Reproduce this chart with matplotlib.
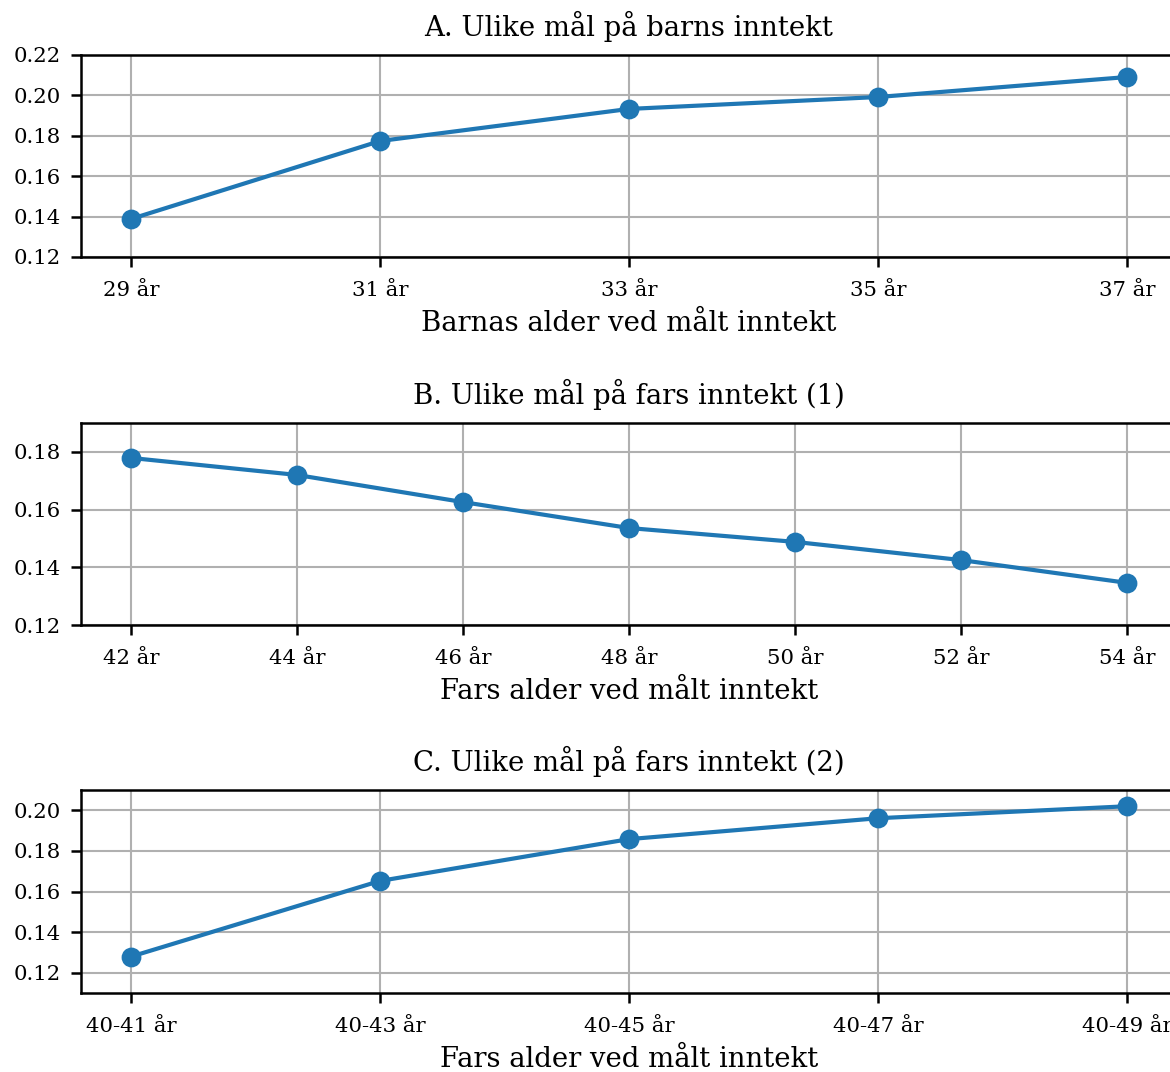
import matplotlib
matplotlib.use("Agg")
import matplotlib.pyplot as plt

plt.rcParams['font.family'] = ['DejaVu Serif']

# Panel A
a_labels = ["29 år", "31 år", "33 år", "35 år", "37 år"]
a_x = [29, 31, 33, 35, 37]
a_vals = [0.1388, 0.1774, 0.1933, 0.1992, 0.2091]

# Panel B
b_labels = ["42 år", "44 år", "46 år", "48 år", "50 år", "52 år", "54 år"]
b_x = [42, 44, 46, 48, 50, 52, 54]
b_vals = [0.1779, 0.1720, 0.1626, 0.1536, 0.1488, 0.1425, 0.1346]

# Panel C
c_labels = ["40-41 år", "40-43 år", "40-45 år", "40-47 år", "40-49 år"]
c_x = [0, 1, 2, 3, 4]
c_vals = [0.1279, 0.1652, 0.1858, 0.1961, 0.2020]

titles = ["A. Ulike mål på barns inntekt",
          "B. Ulike mål på fars inntekt (1)",
          "C. Ulike mål på fars inntekt (2)"]
xlabels = ["Barnas alder ved målt inntekt",
           "Fars alder ved målt inntekt",
           "Fars alder ved målt inntekt"]

W, H = 1170, 1072
dpi = 150
fig = plt.figure(figsize=(W / dpi, H / dpi), dpi=dpi)

def rect(left, right, top, bottom):
    return [left / W, 1 - bottom / H, (right - left) / W, (bottom - top) / H]

panels = [
    (a_x, a_vals, a_labels, (0.12, 0.22), [0.12, 0.14, 0.16, 0.18, 0.20, 0.22], rect(81, 1177, 55, 257)),
    (b_x, b_vals, b_labels, (0.12, 0.19), [0.12, 0.14, 0.16, 0.18], rect(81, 1177, 423, 625)),
    (c_x, c_vals, c_labels, (0.11, 0.21), [0.12, 0.14, 0.16, 0.18, 0.20], rect(81, 1177, 790, 993)),
]

for i, (x, y, labels, ylim, yticks, r) in enumerate(panels):
    ax = fig.add_axes(r)
    ax.plot(x, y, color='#1f77b4', lw=2, marker='o', markersize=8.5)
    ax.set_xticks(x)
    ax.set_xticklabels(labels, fontsize=10.2)
    ax.set_ylim(*ylim)
    ax.set_yticks(yticks)
    ax.set_yticklabels([f"{t:.2f}" for t in yticks], fontsize=10.2)
    ax.grid(True, color='#b0b0b0', lw=1.0)
    for s in ax.spines.values():
        s.set_linewidth(1.2)
    ax.tick_params(length=4.8, width=1.2, pad=5)
    ax.tick_params(axis='x', pad=6.5)
    ax.set_title(titles[i], fontsize=13.2, pad=9)
    ax.set_xlabel(xlabels[i], fontsize=13.2, labelpad=5)

fig.savefig("out.png", dpi=dpi)
